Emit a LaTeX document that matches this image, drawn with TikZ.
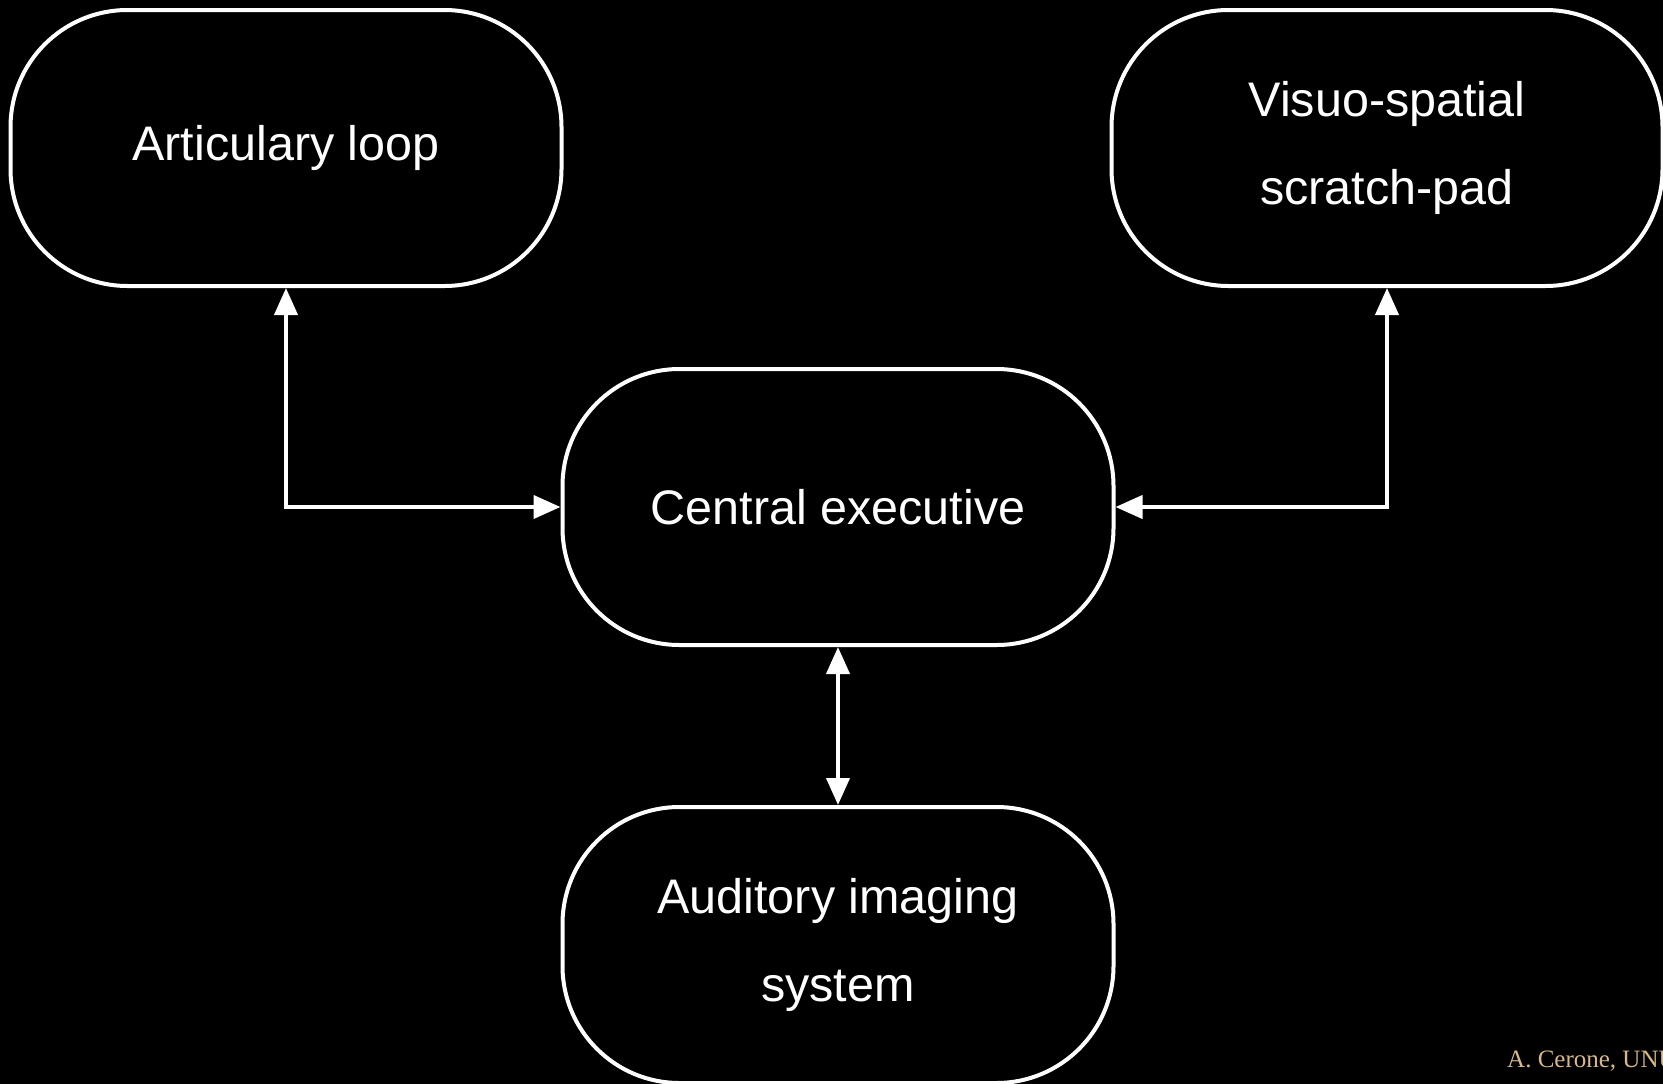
\documentclass[tikz,border=0pt]{standalone}
\usepackage{fontspec}
\setmainfont{Liberation Sans}
\newfontfamily\signfont{Liberation Serif}
\usetikzlibrary{arrows.meta}
\definecolor{signtan}{HTML}{D8B888}
\tikzset{
  box/.style={draw=white, line width=4pt, rounded corners=117pt,
    minimum width=551pt, minimum height=276pt, inner sep=0pt,
    text=white, align=center, font=\fontsize{48.5}{88}\selectfont},
  link/.style={draw=white, line width=4pt,
    {Triangle[length=27pt,width=23pt]}-{Triangle[length=27pt,width=23pt]}}
}
\begin{document}
\begin{tikzpicture}[x=1pt,y=-1pt]
  \fill[black] (0,0) rectangle (1663,1084);
  \useasboundingbox (0,0) rectangle (1663,1084);
  \node[box] (art) at (286,148) {Articulary loop};
  \node[box] (vis) at (1387,148) {Visuo-spatial\\scratch-pad};
  \node[box] (cen) at (838,507) {Central executive};
  \node[box] (aud) at (838,945) {Auditory imaging\\system};
  \node[anchor=base west, text=signtan, font=\signfont\fontsize{25}{30}\selectfont,
    inner sep=0pt] (sign) at (1507,1067) {A. Cerone, UNU/IIST};
  \begin{scope}[link]
    \draw (art.south) |- (cen.west);
    \draw (vis.south) |- (cen.east);
    \draw (cen.south) -- (aud.north);
  \end{scope}
\end{tikzpicture}
\end{document}
